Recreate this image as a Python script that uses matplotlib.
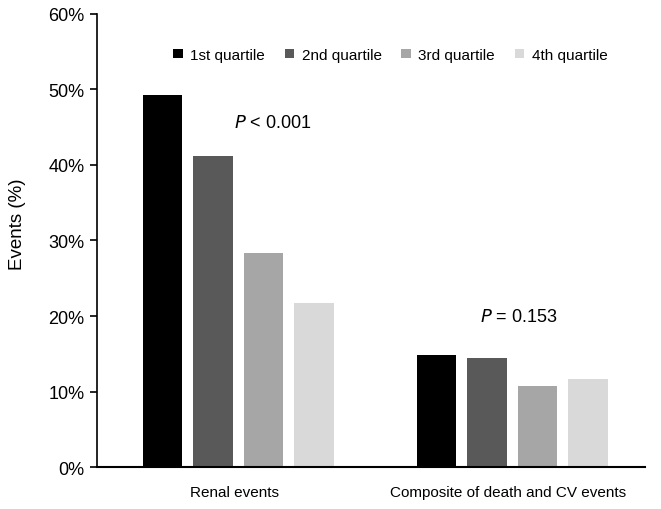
import matplotlib
matplotlib.use('Agg')
import matplotlib.pyplot as plt
from matplotlib.patches import Patch
import numpy as np

plt.rcParams['font.family'] = ['Liberation Sans', 'DejaVu Sans']

categories = ["Renal events", "Composite of death and CV events"]
series_names = ["1st quartile", "2nd quartile", "3rd quartile", "4th quartile"]
values = [
    [49.3, 14.8],
    [41.2, 14.4],
    [28.3, 10.8],
    [21.7, 11.7],
]
colours = ["#000000", "#595959", "#a6a6a6", "#d9d9d9"]
p_labels = ["$\\it{P}$ < 0.001", "$\\it{P}$ = 0.153"]
yticks = [0, 10, 20, 30, 40, 50, 60]

fig = plt.figure(figsize=(6.61, 5.10), dpi=100)
ax = fig.add_axes([0.147, 0.082, 0.829, 0.889])

x = np.arange(len(categories)) + 0.015
width = 0.144
step = 0.184
for i in range(len(series_names)):
    ax.bar(x + (i - 1.5) * step, values[i], width, color=colours[i], label=series_names[i])

ax.set_xlim(-0.5, 1.5)
ax.set_ylim(0, 60)
ax.set_yticks(yticks)
ax.set_yticklabels([str(t) + "%" for t in yticks], fontsize=13)
ax.set_xticks(np.arange(len(categories)))
ax.set_xticklabels(categories, fontsize=11)
ax.tick_params(axis='x', length=0, pad=13)
ax.tick_params(axis='y', length=5, width=1.2, direction='out', pad=4)
ax.spines['top'].set_visible(False)
ax.spines['right'].set_visible(False)
ax.spines['left'].set_linewidth(1.2)
ax.spines['bottom'].set_linewidth(1.5)
ax.set_ylabel("Events (%)", fontsize=13.5)
ax.yaxis.set_label_coords(-0.13, 0.537)

ax.text(0.14, 45.6, p_labels[0], fontsize=13, ha='center', va='center')
ax.text(1.04, 20.0, p_labels[1], fontsize=13, ha='center', va='center')

handles = [Patch(facecolor=c) for c in colours]
ax.legend(handles, series_names, ncol=4, loc='upper center', bbox_to_anchor=(0.535, 0.955),
          frameon=False, fontsize=11, handlelength=0.6, handleheight=0.6,
          handletextpad=0.5, columnspacing=1.3)

fig.savefig("out.png", dpi=100)
